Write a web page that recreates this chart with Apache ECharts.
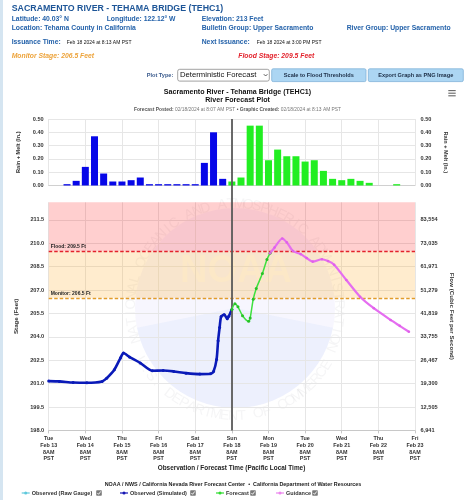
<!DOCTYPE html>
<html><head><meta charset="utf-8">
<script src="https://cdn.jsdelivr.net/npm/echarts@6/dist/echarts.min.js"></script>
<style>html,body{margin:0;padding:0;background:#fff;overflow:hidden}#c{width:467px;height:500px}</style>
</head><body><div id="c"></div>
<script>
// ---------------- data ----------------
const xTickLabels = ['Tue\nFeb 13\n8AM\nPST','Wed\nFeb 14\n8AM\nPST','Thu\nFeb 15\n8AM\nPST','Fri\nFeb 16\n8AM\nPST','Sat\nFeb 17\n8AM\nPST','Sun\nFeb 18\n8AM\nPST','Mon\nFeb 19\n8AM\nPST','Tue\nFeb 20\n8AM\nPST','Wed\nFeb 21\n8AM\nPST','Thu\nFeb 22\n8AM\nPST','Fri\nFeb 23\n8AM\nPST'];
const stageTicks = [198.0, 199.5, 201.0, 202.5, 204.0, 205.5, 207.0, 208.5, 210.0, 211.5];
const flowTicks = ['6,941','12,505','19,300','26,467','33,755','41,819','51,279','61,971','73,035','83,554'];
const rainTicks = [0, 0.1, 0.2, 0.3, 0.4, 0.5];
const floodStage = 209.5;
const monitorStage = 206.5;
const issuanceTime = '02-18 08:00';

const rainObsTimes = ['02-13 20:00','02-14 02:00','02-14 08:00','02-14 14:00','02-14 20:00','02-15 02:00','02-15 08:00','02-15 14:00','02-15 20:00','02-16 02:00','02-16 08:00','02-16 14:00','02-16 20:00','02-17 02:00','02-17 08:00','02-17 14:00','02-17 20:00','02-18 02:00'];
const rainObs = [0.01,0.035,0.14,0.37,0.09,0.03,0.03,0.04,0.06,0.01,0.01,0.01,0.01,0.01,0.01,0.17,0.40,0.05];
const rainFcstTimes = ['02-18 08:00','02-18 14:00','02-18 20:00','02-19 02:00','02-19 08:00','02-19 14:00','02-19 20:00','02-20 02:00','02-20 08:00','02-20 14:00','02-20 20:00','02-21 02:00','02-21 08:00','02-21 14:00','02-21 20:00','02-22 02:00','02-22 08:00','02-22 14:00','02-22 20:00'];
const rainFcst = [0.03,0.06,0.45,0.45,0.19,0.27,0.22,0.22,0.18,0.19,0.11,0.05,0.04,0.05,0.035,0.02,0,0,0.01];

const obsTimes = ['02-13 08:00','02-13 15:00','02-14 00:00','02-14 09:00','02-14 19:00','02-14 22:00','02-15 03:00','02-15 07:00','02-15 09:00','02-15 13:00','02-15 20:00','02-16 04:00','02-16 11:00','02-16 18:00','02-17 02:00','02-17 11:00','02-17 18:00','02-17 20:00','02-17 22:00','02-17 23:00','02-18 00:00','02-18 01:00','02-18 03:00','02-18 05:00','02-18 06:00','02-18 08:00'];
const obsStage = [201.16,201.14,201.07,201.05,201.14,201.35,201.89,202.64,202.96,202.70,202.32,201.82,201.84,201.78,201.67,201.61,201.63,201.78,202.55,203.75,204.60,205.30,205.42,205.15,205.32,205.75];
const fcstTimes = ['02-18 08:00','02-18 10:00','02-18 12:00','02-18 15:00','02-18 19:00','02-18 20:00','02-18 22:00','02-19 00:00','02-19 04:00','02-19 07:00','02-19 09:00'];
const fcstStage = [205.75,206.12,205.92,205.35,204.99,205.20,206.40,207.10,208.05,208.96,209.35];
const guideTimes = ['02-19 09:00','02-19 12:00','02-19 17:00','02-19 20:00','02-20 00:00','02-20 05:00','02-20 09:00','02-20 13:00','02-20 19:00','02-20 23:00','02-21 03:00','02-21 11:00','02-21 20:00','02-22 05:00','02-22 16:00','02-22 22:00','02-23 04:00'];
const guideStage = [209.35,209.72,210.30,210.05,209.50,209.30,209.05,208.82,208.97,208.85,208.62,207.64,206.57,205.83,205.08,204.70,204.32];

// ---------------- helpers ----------------
const F = "'Liberation Sans', Arial, sans-serif";
function toHours(s){const p=s.split(' ');const d=+p[0].split('-')[1];const hm=p[1].split(':').map(Number);return (d-13)*24+hm[0]-8+hm[1]/60;}
function pairs(t,v){return t.map((s,i)=>[toHours(s),v[i]]);}
const X0 = 0, X1 = 240, XI = 24;
const stageMin = 198, stageMax = 212.62;

const chart = echarts.init(document.getElementById('c'), null, {renderer:'canvas'});

const G = {left:48.7, right:52};
const axisLblStyle = {color:'#333', fontSize:5.6, fontWeight:'bold', fontFamily:F};
const nameStyle = {color:'#333', fontSize:6.2, fontWeight:'bold', fontFamily:F};

function txt(x,y,text,opt){opt=opt||{};return {type:'text',silent:true,z:opt.z||20,x:x,y:y,rotation:opt.rot||0,style:Object.assign({text:text,fill:opt.fill||'#000',font:(opt.style||'')+' '+(opt.weight||'normal')+' '+(opt.size||7)+'px '+F,textAlign:opt.align||'left',textVerticalAlign:'middle'},opt.extra||{})};}

const graphics = [];
// left page border
graphics.push({type:'rect',silent:true,z:1,shape:{x:0,y:0,width:3,height:500},style:{fill:'#d5e5f1'}});
// header
const blue='#2462aa';
graphics.push(txt(11.7,8.5,'SACRAMENTO RIVER - TEHAMA BRIDGE (TEHC1)',{weight:'bold',size:8.8,fill:'#1d5597'}));
graphics.push(txt(11.7,19,'Latitude: 40.03° N',{weight:'bold',size:6.8,fill:blue}));
graphics.push(txt(106.7,19,'Longitude: 122.12° W',{weight:'bold',size:6.8,fill:blue}));
graphics.push(txt(201.7,19,'Elevation: 213 Feet',{weight:'bold',size:6.8,fill:blue}));
graphics.push(txt(11.7,28.3,'Location: Tehama County in California',{weight:'bold',size:6.8,fill:blue}));
graphics.push(txt(201.7,28.3,'Bulletin Group: Upper Sacramento',{weight:'bold',size:6.8,fill:blue}));
graphics.push(txt(346.7,28.3,'River Group: Upper Sacramento',{weight:'bold',size:6.8,fill:blue}));
graphics.push(txt(11.7,42.3,'Issuance Time:',{weight:'bold',size:6.8,fill:blue}));
graphics.push(txt(66.7,42.3,'Feb 18 2024 at 8:13 AM PST',{size:5,fill:'#111'}));
graphics.push(txt(201.7,42.3,'Next Issuance:',{weight:'bold',size:6.8,fill:blue}));
graphics.push(txt(256.7,42.3,'Feb 18 2024 at 3:00 PM PST',{size:5,fill:'#111'}));
graphics.push(txt(11.7,55.7,'Monitor Stage: 206.5 Feet',{weight:'bold',style:'italic',size:6.8,fill:'#eda33a'}));
graphics.push(txt(238.3,55.7,'Flood Stage: 209.5 Feet',{weight:'bold',style:'italic',size:6.8,fill:'#e3222c'}));
// controls
graphics.push(txt(146.7,75.5,'Plot Type:',{weight:'bold',size:5.6,fill:'#3a5a8c'}));
graphics.push({type:'rect',silent:true,z:19,shape:{x:177.7,y:69.3,width:91.6,height:11.8,r:2},style:{fill:'#fff',stroke:'#8a8a8a',lineWidth:0.8}});
graphics.push(txt(180,75.3,'Deterministic Forecast',{size:7.7,fill:'#111'}));
graphics.push({type:'polyline',silent:true,z:20,shape:{points:[[263.8,74.2],[265.6,76],[267.4,74.2]]},style:{stroke:'#333',lineWidth:0.8,fill:null}});
graphics.push({type:'rect',silent:true,z:19,shape:{x:271.7,y:68.8,width:94.3,height:12.8,r:1.5},style:{fill:'#acd6f3',stroke:'#7fb1d8',lineWidth:0.8}});
graphics.push(txt(318.8,75.3,'Scale to Flood Thresholds',{weight:'bold',size:5.6,fill:'#1b2c44',align:'center'}));
graphics.push({type:'rect',silent:true,z:19,shape:{x:368.3,y:68.8,width:95,height:12.8,r:1.5},style:{fill:'#acd6f3',stroke:'#7fb1d8',lineWidth:0.8}});
graphics.push(txt(415.8,75.3,'Export Graph as PNG Image',{weight:'bold',size:5.6,fill:'#1b2c44',align:'center'}));
// chart titles
graphics.push(txt(237.5,92,'Sacramento River - Tehama Bridge (TEHC1)',{weight:'bold',size:7.1,align:'center',fill:'#111'}));
graphics.push(txt(237.5,100.3,'River Forecast Plot',{weight:'bold',size:7.1,align:'center',fill:'#111'}));
graphics.push(txt(237.5,110,'{b|Forecast Posted:} {n|02/18/2024 at 8:07 AM PST} {b|•} {b|Graphic Created:} {n|02/18/2024 at 8:13 AM PST}',{size:4.9,align:'center',fill:'#666',extra:{rich:{b:{fontWeight:'bold',fill:'#555',fontSize:4.9,fontFamily:F},n:{fill:'#777',fontSize:4.9,fontFamily:F}}}}));
// hamburger
[90.6,93.2,95.8].forEach(y=>graphics.push({type:'line',silent:true,z:20,shape:{x1:448.3,y1:y,x2:455.7,y2:y},style:{stroke:'#666',lineWidth:1.1}}));
// axis title + credits
graphics.push(txt(231.5,468.3,'Observation / Forecast Time (Pacific Local Time)',{weight:'bold',size:6.4,align:'center',fill:'#222'}));
graphics.push(txt(233,484.3,'NOAA / NWS / California Nevada River Forecast Center  •  California Department of Water Resources',{weight:'bold',size:5.4,align:'center',fill:'#222'}));
// legend
const legendItems = [
  {name:'Observed (Raw Gauge)', color:'#5fc9dc', x:21.7, box:99},
  {name:'Observed (Simulated)', color:'#1616b4', x:120, box:193},
  {name:'Forecast', color:'#2fdc2f', x:216, box:253},
  {name:'Guidance', color:'#ec86ee', x:276, box:315}
];
legendItems.forEach(it=>{
  graphics.push({type:'line',silent:true,z:20,shape:{x1:it.x,y1:493,x2:it.x+8,y2:493},style:{stroke:it.color,lineWidth:1.2}});
  graphics.push({type:'circle',silent:true,z:21,shape:{cx:it.x+4,cy:493,r:1.5},style:{fill:it.color}});
  graphics.push(txt(it.x+10,493,it.name,{weight:'bold',size:5.5,fill:'#333'}));
  graphics.push({type:'rect',silent:true,z:20,shape:{x:it.box-2.8,y:490.2,width:5.6,height:5.6,r:0.8},style:{fill:'#7a7a7a'}});
  graphics.push({type:'polyline',silent:true,z:21,shape:{points:[[it.box-1.6,493],[it.box-0.4,494.3],[it.box+1.8,491.4]]},style:{stroke:'#fff',lineWidth:0.9,fill:null}});
});
// NOAA watermark (faint)
const wcx=235, wcy=308;
graphics.push({type:'circle',silent:true,z:0,shape:{cx:wcx,cy:wcy,r:100},style:{fill:'rgba(120,110,230,0.06)'}});
graphics.push({type:'sector',silent:true,z:0,shape:{cx:wcx,cy:wcy,r:100,r0:0,startAngle:0.2,endAngle:Math.PI-0.2},style:{fill:'rgba(60,140,230,0.05)'}});
graphics.push({type:'text',silent:true,z:0,x:236,y:272,style:{text:'NOAA',fill:'rgba(255,255,240,0.45)',font:'bold 38px '+F,textAlign:'center',textVerticalAlign:'middle'}});
function ring(str,a0,a1,R,top){
  const n=str.length;
  for(let i=0;i<n;i++){
    const a=(a0+(a1-a0)*i/(n-1))*Math.PI/180;
    const x=wcx+R*Math.cos(a), y=wcy-R*Math.sin(a);
    const rot= top ? a-Math.PI/2 : a+Math.PI/2;
    graphics.push({type:'text',silent:true,z:0,x:x,y:y,rotation:rot,style:{text:str[i],fill:'rgba(110,110,130,0.07)',font:'14px '+F,textAlign:'center',textVerticalAlign:'middle'}});
  }
}
ring('NATIONAL OCEANIC AND ATMOSPHERIC ADMINISTRATION',197,-22,104,true);
ring('U.S. DEPARTMENT OF COMMERCE',-150,-32,108,false);

const xBase = {type:'value',min:X0,max:X1,interval:XI};
const option = {
  animation:false,
  backgroundColor:'#fff',
  textStyle:{fontFamily:F},
  grid:[
    {left:G.left,right:G.right,top:119,height:66.5,outerBoundsMode:'none'},
    {left:G.left,right:G.right,top:202.3,height:228.1,outerBoundsMode:'none'},
    {left:G.left,right:G.right,top:119,height:311.4,outerBoundsMode:'none'}
  ],
  xAxis:[
    Object.assign({},xBase,{gridIndex:0,axisLabel:{show:false},axisTick:{show:false},axisLine:{show:true,lineStyle:{color:'#d0d0d0',width:1}},splitLine:{show:true,lineStyle:{color:'#e6e6e6',width:1}}}),
    Object.assign({},xBase,{gridIndex:1,axisLine:{show:true,lineStyle:{color:'#c8c8c8',width:1}},axisTick:{show:true,length:3,lineStyle:{color:'#c8c8c8'}},
      axisLabel:Object.assign({},axisLblStyle,{margin:5,lineHeight:6.7,fontSize:5.4,formatter:(v)=>{const i=Math.round((v-X0)/XI);return xTickLabels[i]||'';}}),
      splitLine:{show:true,lineStyle:{color:'#e6e6e6',width:1}}}),
    Object.assign({},xBase,{gridIndex:2,show:false})
  ],
  yAxis:[
    {gridIndex:0,type:'value',min:0,max:0.5,interval:0.1,position:'left',axisLine:{show:false},axisTick:{show:false},
      splitLine:{show:true,lineStyle:{color:'#e6e6e6'}},axisLabel:Object.assign({},axisLblStyle,{margin:5,formatter:v=>rainTicks.some(t=>Math.abs(t-v)<1e-6)?v.toFixed(2):''}),
      name:'Rain + Melt (In.)',nameLocation:'middle',nameGap:24,nameRotate:90,nameTextStyle:Object.assign({},nameStyle,{fontSize:5.6})},
    {gridIndex:0,type:'value',min:0,max:0.5,interval:0.1,position:'right',axisLine:{show:false},axisTick:{show:false},splitLine:{show:false},
      axisLabel:Object.assign({},axisLblStyle,{margin:5.5,formatter:v=>rainTicks.some(t=>Math.abs(t-v)<1e-6)?v.toFixed(2):''}),
      name:'Rain + Melt (In.)',nameLocation:'middle',nameGap:22,nameRotate:-90,nameTextStyle:Object.assign({},nameStyle,{fontSize:5.6})},
    {gridIndex:1,type:'value',min:stageMin,max:stageMax,interval:1.5,position:'left',axisLine:{show:false},axisTick:{show:false},
      splitLine:{show:true,showMaxLine:false,lineStyle:{color:'#e6e6e6'}},
      axisLabel:Object.assign({},axisLblStyle,{margin:4.5,formatter:v=>{const i=stageTicks.findIndex(t=>Math.abs(t-v)<1e-6);return i<0?'':stageTicks[i].toFixed(1);}}),
      name:'Stage (Feet)',nameLocation:'middle',nameGap:25,nameRotate:90,nameTextStyle:nameStyle},
    {gridIndex:1,type:'value',min:stageMin,max:stageMax,interval:1.5,position:'right',axisLine:{show:false},axisTick:{show:false},splitLine:{show:false},
      axisLabel:Object.assign({},axisLblStyle,{margin:5.5,formatter:v=>{const i=stageTicks.findIndex(t=>Math.abs(t-v)<1e-6);return i<0?'':flowTicks[i];}}),
      name:'Flow (Cubic Feet per Second)',nameLocation:'middle',nameGap:30,nameRotate:-90,nameTextStyle:nameStyle},
    {gridIndex:2,type:'value',min:0,max:1,show:false}
  ],
  series:[
    {name:'Rain Observed',type:'bar',xAxisIndex:0,yAxisIndex:0,barWidth:7,barGap:'-100%',data:pairs(rainObsTimes,rainObs),itemStyle:{color:'#0707e8'}},
    {name:'Rain Forecast',type:'bar',xAxisIndex:0,yAxisIndex:0,barWidth:7,barGap:'-100%',data:pairs(rainFcstTimes,rainFcst),itemStyle:{color:'#22ee22'}},
    {name:'Observed (Simulated)',type:'line',xAxisIndex:1,yAxisIndex:2,smooth:0.25,data:pairs(obsTimes,obsStage),
      symbol:'circle',symbolSize:3,showSymbol:true,itemStyle:{color:'#0a1ab8'},lineStyle:{color:'#0a1ab8',width:2.6},z:4,
      markArea:{silent:true,data:[
        [{yAxis:floodStage,itemStyle:{color:'rgba(255,0,0,0.19)'}},{yAxis:stageMax}],
        [{yAxis:monitorStage,itemStyle:{color:'rgba(255,170,30,0.22)'}},{yAxis:floodStage}]
      ]},
      markLine:{silent:true,symbol:'none',data:[
        {yAxis:floodStage,lineStyle:{color:'#e3222c',width:1.4,type:[3.5,2]},label:{show:true,position:'insideStartTop',distance:[2,1.5],formatter:'Flood: '+floodStage.toFixed(1)+' Ft',color:'#222',fontSize:5,fontWeight:'bold',fontFamily:F}},
        {yAxis:monitorStage,lineStyle:{color:'#e29c2a',width:1.4,type:[3.5,2]},label:{show:true,position:'insideStartTop',distance:[2,1.5],formatter:'Monitor: '+monitorStage.toFixed(1)+' Ft',color:'#222',fontSize:5,fontWeight:'bold',fontFamily:F}}
      ]}},
    {name:'Forecast',type:'line',xAxisIndex:1,yAxisIndex:2,smooth:0.25,data:pairs(fcstTimes,fcstStage),
      symbol:'circle',symbolSize:3,showSymbol:true,itemStyle:{color:'#26c226'},lineStyle:{color:'#3ee03e',width:1.5},z:5},
    {name:'Guidance',type:'line',xAxisIndex:1,yAxisIndex:2,smooth:0.25,data:pairs(guideTimes,guideStage),
      symbol:'circle',symbolSize:2.6,showSymbol:true,itemStyle:{color:'#e060ea'},lineStyle:{color:'#e56ef0',width:2.2},z:5},
    {name:'Issuance',type:'line',xAxisIndex:2,yAxisIndex:4,data:[[toHours(issuanceTime),0.5]],showSymbol:false,lineStyle:{width:0},
      markLine:{silent:true,symbol:'none',label:{show:false},data:[{xAxis:toHours(issuanceTime)}],lineStyle:{color:'#5a5a5a',width:1.8,type:'solid'}},z:6}
  ],
  graphic:graphics
};
chart.setOption(option);
</script>
</body></html>
